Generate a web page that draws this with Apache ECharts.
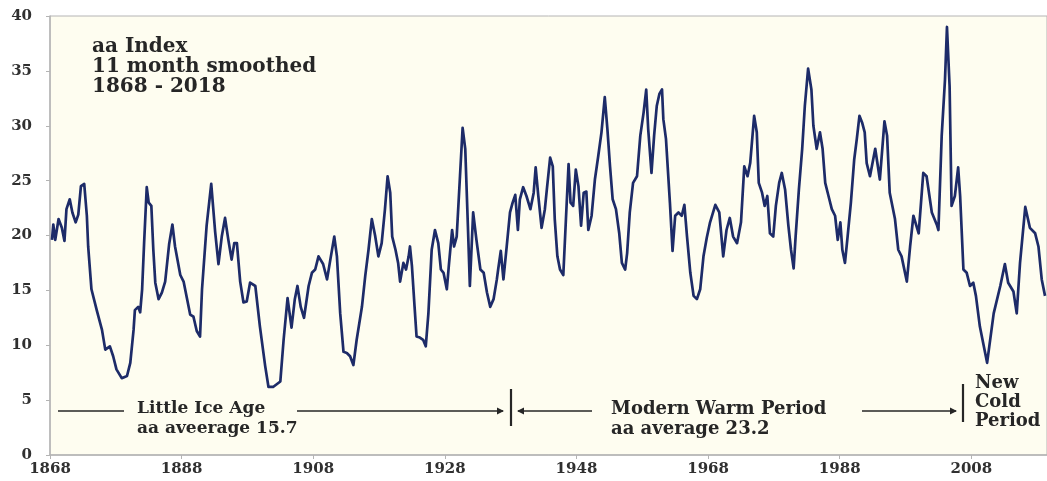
<!DOCTYPE html>
<html>
<head>
<meta charset="utf-8">
<script src="https://cdn.jsdelivr.net/npm/echarts@6/dist/echarts.min.js"></script>
<style>
  html, body { margin: 0; padding: 0; background: #fff; }
  #chart { width: 1047px; height: 481px; }
</style>
</head>
<body>
<div id="chart"></div>
<script>
// aa index, 11 month smoothed (year, nT)
const years = [
  1868.3, 1868.5, 1868.8, 1869.3, 1869.8, 1870.2, 1870.5, 1871.0, 1871.4, 1871.9,
  1872.3, 1872.7, 1873.2, 1873.6, 1873.8, 1874.3, 1875.1, 1875.9, 1876.4, 1877.1,
  1877.6, 1878.1, 1878.9, 1879.7, 1880.2, 1880.7, 1880.9, 1881.4, 1881.7, 1882.0,
  1882.3, 1882.7, 1883.0, 1883.4, 1883.7, 1884.0, 1884.5, 1885.0, 1885.5, 1886.1,
  1886.6, 1887.0, 1887.8, 1888.3, 1888.8, 1889.3, 1889.8, 1890.3, 1890.8, 1891.1,
  1891.8, 1892.5, 1893.1, 1893.6, 1894.1, 1894.6, 1895.1, 1895.6, 1896.0, 1896.4,
  1896.9, 1897.4, 1897.9, 1898.4, 1899.2, 1899.9, 1900.7, 1901.2, 1901.9, 1903.0,
  1903.5, 1904.1, 1904.7, 1905.2, 1905.6, 1906.1, 1906.6, 1907.3, 1907.8, 1908.3,
  1908.8, 1909.5, 1910.1, 1910.6, 1911.2, 1911.6, 1912.1, 1912.6, 1913.1, 1913.6,
  1914.1, 1914.6, 1915.4, 1915.9, 1916.4, 1916.9, 1917.4, 1917.9, 1918.4, 1918.9,
  1919.3, 1919.7, 1920.0, 1920.5, 1920.9, 1921.2, 1921.7, 1922.1, 1922.5, 1922.7,
  1923.0, 1923.4, 1923.7, 1924.2, 1924.7, 1925.1, 1925.5, 1926.0, 1926.5, 1927.0,
  1927.4, 1927.8, 1928.3, 1928.6, 1929.1, 1929.4, 1929.8, 1930.3, 1930.7, 1931.1,
  1931.5, 1931.8, 1932.3, 1932.8, 1933.4, 1933.9, 1934.4, 1934.9, 1935.4, 1935.9,
  1936.1, 1936.5, 1936.9, 1937.4, 1937.9, 1938.3, 1938.7, 1939.1, 1939.4, 1939.9,
  1940.4, 1941.0, 1941.5, 1941.8, 1942.2, 1942.7, 1943.2, 1943.5, 1944.0, 1944.4,
  1944.7, 1945.1, 1945.5, 1946.0, 1946.4, 1946.8, 1947.1, 1947.5, 1947.9, 1948.3,
  1948.7, 1949.1, 1949.5, 1949.8, 1950.3, 1950.8, 1951.3, 1951.8, 1952.3, 1952.7,
  1953.1, 1953.5, 1954.0, 1954.5, 1954.9, 1955.4, 1955.7, 1956.1, 1956.6, 1957.2,
  1957.7, 1958.2, 1958.6, 1958.9, 1959.4, 1959.8, 1960.2, 1960.6, 1961.0, 1961.2,
  1961.6, 1962.2, 1962.6, 1963.0, 1963.5, 1964.0, 1964.4, 1964.8, 1965.3, 1965.8,
  1966.3, 1966.8, 1967.3, 1967.8, 1968.3, 1969.1, 1969.7, 1970.3, 1970.8, 1971.3,
  1971.8, 1972.4, 1973.0, 1973.5, 1974.0, 1974.4, 1975.0, 1975.4, 1975.7, 1976.2,
  1976.6, 1977.0, 1977.4, 1977.9, 1978.3, 1978.8, 1979.2, 1979.7, 1980.2, 1980.6,
  1981.0, 1981.3, 1981.8, 1982.3, 1982.7, 1983.2, 1983.7, 1984.0, 1984.5, 1985.0,
  1985.4, 1985.8, 1986.3, 1986.8, 1987.3, 1987.7, 1988.1, 1988.4, 1988.8, 1989.2,
  1989.7, 1990.2, 1990.6, 1991.0, 1991.4, 1991.8, 1992.1, 1992.6, 1993.4, 1994.1,
  1994.8, 1995.2, 1995.6, 1996.4, 1996.9, 1997.4, 1998.2, 1998.7, 1999.2, 2000.0,
  2000.7, 2001.2, 2002.0, 2002.8, 2003.0, 2003.5, 2004.0, 2004.3, 2004.7, 2005.0,
  2005.5, 2006.0, 2006.3, 2006.8, 2007.3, 2007.8, 2008.3, 2008.7, 2009.3, 2010.4,
  2011.4, 2012.4, 2013.1, 2013.6, 2014.4, 2014.9, 2015.4, 2016.2, 2016.9, 2017.7,
  2018.2, 2018.7, 2019.2
];

const aaValues = [
  19.6, 21.0, 19.6, 21.5, 20.7, 19.5, 22.4, 23.3, 22.1, 21.2,
  21.9, 24.5, 24.7, 21.8, 19.0, 15.1, 13.2, 11.4, 9.6, 9.9,
  9.0, 7.8, 7.0, 7.2, 8.4, 11.4, 13.2, 13.5, 13.0, 15.1,
  19.3, 24.4, 23.0, 22.7, 18.7, 15.7, 14.2, 14.8, 15.8, 19.2,
  21.0, 19.0, 16.4, 15.8, 14.3, 12.8, 12.6, 11.3, 10.8, 15.1,
  20.9, 24.7, 20.3, 17.4, 19.9, 21.6, 19.6, 17.8, 19.3, 19.3,
  15.8, 13.9, 14.0, 15.7, 15.4, 11.7, 8.1, 6.2, 6.2, 6.7,
  10.5, 14.3, 11.6, 14.2, 15.4, 13.5, 12.5, 15.4, 16.6, 16.9,
  18.1, 17.4, 16.0, 17.8, 19.9, 18.1, 12.9, 9.4, 9.3, 9.0,
  8.2, 10.5, 13.5, 16.3, 18.7, 21.5, 20.0, 18.1, 19.3, 22.4,
  25.4, 23.9, 19.9, 18.7, 17.5, 15.8, 17.5, 16.9, 18.1, 19.0,
  17.2, 13.5, 10.8, 10.7, 10.5, 9.9, 12.9, 18.7, 20.5, 19.3,
  16.9, 16.6, 15.1, 17.2, 20.5, 19.0, 19.9, 25.4, 29.8, 27.9,
  20.9, 15.4, 22.1, 19.6, 16.9, 16.6, 14.8, 13.5, 14.2, 16.0,
  16.9, 18.6, 16.0, 19.0, 22.1, 23.0, 23.7, 20.5, 23.3, 24.4,
  23.6, 22.4, 23.9, 26.2, 23.6, 20.7, 22.4, 24.2, 27.1, 26.3,
  21.5, 18.1, 16.9, 16.4, 21.5, 26.5, 23.0, 22.7, 26.0, 24.5,
  20.9, 23.9, 24.0, 20.5, 21.8, 25.1, 27.2, 29.4, 32.6, 29.7,
  26.3, 23.3, 22.4, 20.2, 17.5, 16.9, 18.4, 22.1, 24.8, 25.4,
  29.1, 31.2, 33.3, 29.7, 25.7, 29.1, 31.8, 32.9, 33.3, 30.6,
  28.8, 23.0, 18.6, 21.8, 22.1, 21.8, 22.8, 19.9, 16.6, 14.5,
  14.2, 15.1, 18.1, 19.8, 21.2, 22.8, 22.1, 18.1, 20.5, 21.6,
  19.9, 19.3, 21.2, 26.3, 25.4, 26.6, 30.9, 29.4, 24.8, 23.9,
  22.7, 23.6, 20.2, 19.9, 22.7, 24.8, 25.7, 24.2, 20.9, 18.7,
  17.0, 19.9, 24.2, 27.9, 31.8, 35.2, 33.3, 30.0, 27.9, 29.4,
  27.9, 24.8, 23.6, 22.4, 21.8, 19.6, 21.2, 18.7, 17.5, 19.9,
  23.0, 26.9, 28.8, 30.9, 30.3, 29.4, 26.6, 25.4, 27.9, 25.1,
  30.4, 29.1, 23.9, 21.5, 18.7, 18.1, 15.8, 19.0, 21.8, 20.2,
  25.7, 25.4, 22.1, 20.9, 20.5, 29.1, 34.2, 39.0, 33.6, 22.7,
  23.6, 26.2, 23.6, 16.9, 16.6, 15.4, 15.7, 14.5, 11.7, 8.4,
  12.9, 15.4, 17.4, 15.7, 14.9, 12.9, 17.5, 22.6, 20.7, 20.2,
  19.0, 16.0, 14.5
];

const xTickStart = 1868;
const xTickStep = 20;
const xMax = 2019.5;
const yTicks = [0, 5, 10, 15, 20, 25, 30, 35, 40];

const titleLines = ['aa Index', '11 month smoothed', '1868 - 2018'];

const chart = echarts.init(document.getElementById('chart'));

const serif = '"DejaVu Serif", "Liberation Serif", serif';
const ink = '#262626';

function arrowHead(x, y, dir) {
  // small filled triangle, dir = 1 points right, -1 points left
  return {
    type: 'polygon',
    silent: true,
    shape: { points: [[x, y], [x - dir * 7, y - 3.5], [x - dir * 7, y + 3.5]] },
    style: { fill: ink }
  };
}
function hLine(x1, x2, y) {
  return { type: 'line', silent: true, shape: { x1, y1: y, x2, y2: y }, style: { stroke: ink, lineWidth: 1.3 } };
}
function vBar(x, y1, y2) {
  return { type: 'line', silent: true, shape: { x1: x, y1, x2: x, y2 }, style: { stroke: ink, lineWidth: 2.2 } };
}
function label(text, x, y, size, lh) {
  return {
    type: 'text', silent: true, left: x, top: y,
    style: { text, font: 'bold ' + size + 'px ' + serif, fill: ink, lineHeight: lh }
  };
}

const option = {
  animation: false,
  backgroundColor: '#ffffff',
  grid: {
    left: 50, right: 0, top: 16, bottom: 26,
    show: true,
    backgroundColor: '#fefdf0',
    borderColor: '#b4b4b4',
    borderWidth: 1
  },
  xAxis: {
    type: 'value',
    min: xTickStart,
    max: xMax,
    interval: xTickStep,
    axisLine: { show: true, lineStyle: { color: '#b4b4b4', width: 1.5 } },
    axisTick: { show: true, length: 4, lineStyle: { color: '#b4b4b4' } },
    splitLine: { show: false },
    axisLabel: {
      margin: 7,
      showMaxLabel: false,
      color: '#303030',
      fontFamily: serif,
      fontWeight: 'bold',
      fontSize: 15,
      formatter: v => ((v - xTickStart) % xTickStep === 0 ? String(v) : '')
    }
  },
  yAxis: {
    type: 'value',
    min: yTicks[0],
    max: yTicks[yTicks.length - 1],
    interval: yTicks[1] - yTicks[0],
    axisLine: { show: true, lineStyle: { color: '#b4b4b4', width: 1.5 } },
    axisTick: { show: true, length: 4, lineStyle: { color: '#b4b4b4' } },
    splitLine: { show: false },
    axisLabel: {
      margin: 18,
      color: '#303030',
      fontFamily: serif,
      fontWeight: 'bold',
      fontSize: 15
    }
  },
  series: [{
    type: 'line',
    data: years.map((y, i) => [y, aaValues[i]]),
    symbol: 'none',
    smooth: false,
    lineStyle: { color: '#1d2b68', width: 2.7, join: 'round' },
    z: 3
  }],
  graphic: [
    label(titleLines.join('\n'), 92, 37, 20, 20),

    hLine(58, 124, 411),
    label('Little Ice Age\naa aveerage 15.7', 137, 399, 17, 20),
    hLine(297, 503, 411),
    arrowHead(504, 411, 1),
    vBar(511, 389, 426),

    hLine(518, 592, 411),
    arrowHead(517, 411, -1),
    label('Modern Warm Period\naa average 23.2', 611, 399, 18, 20),
    hLine(862, 956, 411),
    arrowHead(957, 411, 1),
    vBar(963, 384, 422),
    label('New\nCold\nPeriod', 975, 374, 18, 19)
  ]
};

chart.setOption(option);
</script>
</body>
</html>
